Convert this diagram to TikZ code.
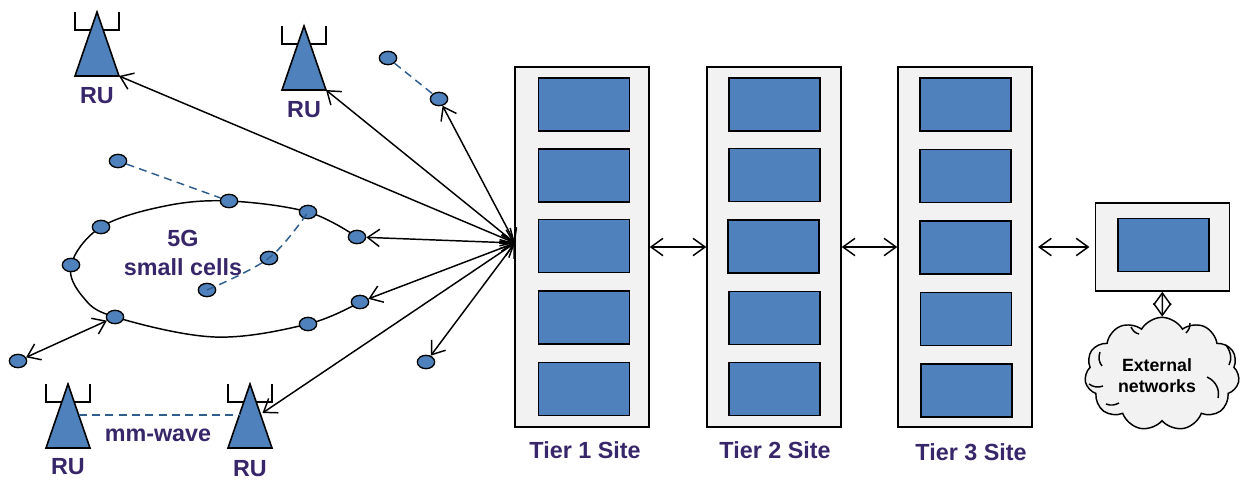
\documentclass[tikz,border=0pt]{standalone}
\usepackage{fontspec}
\setmainfont{Liberation Sans}
\usetikzlibrary{arrows.meta,shapes.geometric,shapes.symbols,backgrounds}
\definecolor{cellblue}{RGB}{79,129,189}
\definecolor{framegray}{RGB}{242,242,242}
\definecolor{labelpurple}{RGB}{56,38,106}
\definecolor{dashblue}{RGB}{47,94,142}
\tikzset{every picture/.style={line width=0.75pt},
	tierframe/.style={draw=black,fill=framegray,line width=1.1pt,minimum width=100.5pt,minimum height=270pt,inner sep=0pt},
	tierbox/.style={draw=black,fill=cellblue,line width=1.1pt,minimum width=68pt,minimum height=39.5pt,inner sep=0pt},
	cellnode/.style={ellipse,draw=black,fill=cellblue,line width=1pt,minimum width=13pt,minimum height=10pt,inner sep=0pt},
	purplelabel/.style={font=\fontsize{17.5}{20}\selectfont\bfseries,text=labelpurple,inner sep=0pt},
	cloudlabel/.style={font=\fontsize{13.3}{16}\selectfont\bfseries,text=black,inner sep=0pt},
	linkarrow/.style={line width=1.1pt,{Straight Barb[length=9pt,width=13pt]}-{Straight Barb[length=9pt,width=13pt]}},
	wirelessline/.style={dash pattern=on 6pt off 4pt,draw=dashblue,line width=1.1pt},
	rutower/.pic={
		\draw [line width=1.2pt] (-22,0) -- (-22,-18) -- (22,-18) -- (22,0) ;
		\draw [fill=cellblue,line width=1.2pt] (0,0) -- (22,-64) -- (-22,-64) -- cycle ;
		\coordinate (-corner) at (22,-64);
		\coordinate (-left) at (10.5,-31);
		\coordinate (-right) at (-10.5,-31);
		\coordinate (-side) at (12.5,-29);
	}}

\begin{document}
\begin{tikzpicture}[x=0.75pt,y=0.75pt,yscale=-1,xscale=1]
	\useasboundingbox (0,0) rectangle (1241,480);

	% Tier sites
	\node [tierframe] (tierOne) at (582,247) {};
	\node [tierframe] (tierTwo) at (774,247) {};
	\node [tierframe] (tierThree) at (965,247) {};

	\node [tierbox] (boxOneA) at (584,104.5) {};
	\node [tierbox] (boxOneB) at (584,175.5) {};
	\node [tierbox] (boxOneC) at (584,246) {};
	\node [tierbox] (boxOneD) at (584,317.5) {};
	\node [tierbox] (boxOneE) at (584,389) {};

	\node [tierbox] (boxTwoA) at (774.5,104.5) {};
	\node [tierbox] (boxTwoB) at (774.5,175) {};
	\node [tierbox] (boxTwoC) at (773.5,246.5) {};
	\node [tierbox] (boxTwoD) at (774.5,318) {};
	\node [tierbox] (boxTwoE) at (774.5,389) {};

	\node [tierbox] (boxThreeA) at (965.5,104.5) {};
	\node [tierbox] (boxThreeB) at (965.5,176) {};
	\node [tierbox] (boxThreeC) at (965.5,247.5) {};
	\node [tierbox] (boxThreeD) at (966,319) {};
	\node [tierbox] (boxThreeE) at (966.5,390.5) {};

	% External site
	\node [tierframe,minimum height=66pt] (extFrame) at (1162.5,247) {};
	\node [tierbox] (extBox) at (1163.5,245) {};
	\node [cloud,cloud puffs=11,cloud puff arc=120,aspect=1.4,draw=black,fill=framegray,line width=1.1pt,minimum width=116pt,minimum height=85pt,inner sep=0pt] (extCloud) at (1162,374) {};
	% Cloud creases
	\draw [line width=1.1pt] (1131,327) .. controls (1133,331) and (1135,333) .. (1139,334) ;
	\draw [line width=1.1pt] (1190,323) .. controls (1190,327) and (1189,330) .. (1186,333) ;
	\draw [line width=1.1pt] (1226,345) .. controls (1231,352) and (1232,359) .. (1229,365) ;
	\draw [line width=1.1pt] (1207,377) .. controls (1216,381) and (1220,390) .. (1218,398) ;
	\draw [line width=1.1pt] (1100,352) .. controls (1098,358) and (1099,362) .. (1102,366) ;
	\draw [line width=1.1pt] (1089,384) .. controls (1093,387) and (1098,388) .. (1103,386) ;
	\draw [line width=1.1pt] (1106,404) .. controls (1111,406) and (1115,405) .. (1119,403) ;

	% Cells
	\node [cellnode] (cellRingTop) at (229,201) {};
	\node [cellnode] (cellRingA) at (308,212) {};
	\node [cellnode] (cellRingB) at (357,237) {};
	\node [cellnode] (cellRingC) at (360,302) {};
	\node [cellnode] (cellRingD) at (308,324) {};
	\node [cellnode] (cellRingE) at (115,317) {};
	\node [cellnode] (cellRingF) at (71,265) {};
	\node [cellnode] (cellRingG) at (101,227) {};
	\node [cellnode] (cellFarLeft) at (118,161) {};
	\node [cellnode] (cellInnerA) at (269,258) {};
	\node [cellnode] (cellInnerB) at (207,290) {};
	\node [cellnode] (cellTopA) at (388,58) {};
	\node [cellnode] (cellTopB) at (439,99) {};
	\node [cellnode] (cellLow) at (426,362) {};
	\node [cellnode] (cellEdge) at (18,361) {};

	% Ring behind the cells
	\begin{pgfonlayer}{background}
	\draw [line width=1.1pt] plot [smooth,tension=0.6] coordinates {(cellRingB) (cellRingA) (cellRingTop) (165,206) (cellRingG) (cellRingF) (83,297) (cellRingE) (215,337) (cellRingD) (cellRingC)} ;
	\end{pgfonlayer}

	% Towers
	\pic (ruOne) at (97,12) {rutower};
	\pic (ruTwo) at (304,26) {rutower};
	\pic (ruThree) at (68,384) {rutower};
	\pic (ruFour) at (250,384) {rutower};

	% Wireless links
	\draw [wirelessline] (cellTopA) -- (cellTopB) ;
	\draw [wirelessline] (cellFarLeft) -- (cellRingTop) ;
	\draw [wirelessline] plot [smooth,tension=0.6] coordinates {(cellInnerB) (cellInnerA) (cellRingA)} ;
	\draw [wirelessline] (ruThree-left) -- (ruFour-right) ;

	% Fronthaul links
	\coordinate (hub) at (515,243);
	\draw [linkarrow] (hub) -- (ruOne-corner) ;
	\draw [linkarrow] (hub) -- (ruTwo-corner) ;
	\draw [linkarrow] (hub) -- (cellTopB) ;
	\draw [linkarrow] (hub) -- (cellRingB) ;
	\draw [linkarrow] (hub) -- (cellRingC) ;
	\draw [linkarrow] (hub) -- (cellLow) ;
	\draw [linkarrow] (hub) -- (ruFour-side) ;
	\draw [linkarrow] (cellRingE) -- (cellEdge) ;

	% Site links
	\draw [linkarrow] (tierOne) -- (tierTwo) ;
	\draw [linkarrow] (tierTwo) -- (tierThree) ;
	\draw [linkarrow,shorten <=4pt,shorten >=4pt] (tierThree) -- (extFrame) ;
	\draw [linkarrow] (extFrame) -- (extCloud) ;

	% Text Node
	\node [purplelabel] (labelRuOne) at (97,96) {RU};
	\node [purplelabel] (labelRuTwo) at (304,110) {RU};
	\node [purplelabel] (labelRuThree) at (68,467) {RU};
	\node [purplelabel] (labelRuFour) at (250,469) {RU};
	\node [purplelabel] (labelFiveG) at (183,238) {5G};
	\node [purplelabel] (labelSmall) at (183,267) {small cells};
	\node [purplelabel] (labelWave) at (158,435) {mm-wave};
	\node [purplelabel] (labelTierOne) at (585,450) {Tier 1 Site};
	\node [purplelabel] (labelTierTwo) at (775,450) {Tier 2 Site};
	\node [purplelabel] (labelTierThree) at (971,452) {Tier 3 Site};
	\node [cloudlabel] (labelExternal) at (1157,365) {External};
	\node [cloudlabel] (labelNetworks) at (1157,386) {networks};

\end{tikzpicture}
\end{document}
